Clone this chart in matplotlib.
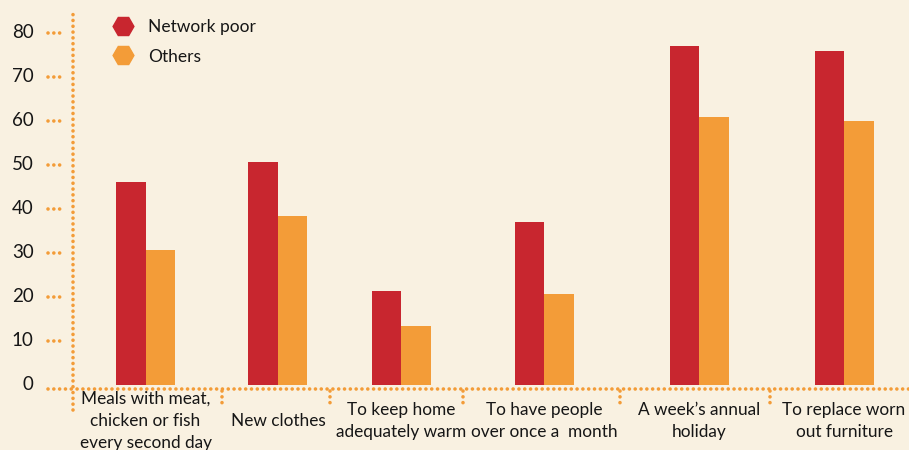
import matplotlib
matplotlib.use("Agg")
import matplotlib.pyplot as plt
import matplotlib.transforms as mtransforms
from matplotlib.lines import Line2D
import numpy as np

plt.rcParams["font.family"] = ["Lato", "DejaVu Sans"]

# data (percent)
categories = [
    "Meals with meat,\nchicken or fish\nevery second day",
    "New clothes",
    "To keep home\nadequately warm",
    "To have people\nover once a  month",
    "A week\u2019s annual\nholiday",
    "To replace worn\nout furniture",
]
network_poor = [46.1, 50.7, 21.4, 37.0, 77.0, 75.9]
others = [30.7, 38.4, 13.4, 20.7, 60.9, 60.0]
series_names = ["Network poor", "Others"]
yticks = [0, 10, 20, 30, 40, 50, 60, 70, 80]

# layout: group centres are not evenly spaced in the original
group_pos = np.array([0.0, 0.948, 1.829, 2.853, 3.962, 5.0])
sep_pos = [0.547, 1.320, 2.273, 3.397, 4.471]
bar_w = 0.211

bg = "#F9F1E1"
red = "#C8262F"
orange = "#F39C38"
dot = "#F39C38"
ink = "#161616"

fig = plt.figure(figsize=(9.09, 4.5), dpi=100, facecolor=bg)
ax = fig.add_axes([73 / 909, 1 - 389 / 450, 836 / 909, 379 / 450])
ax.set_facecolor(bg)

ax.bar(group_pos - bar_w / 2, network_poor, bar_w, color=red, zorder=2)
ax.bar(group_pos + bar_w / 2, others, bar_w, color=orange, zorder=2)

ax.set_xlim(-0.519, 5.465)
ax.set_ylim(-0.91, 85.2)
ax.set_xticks([])
ax.set_yticks([])
for s in ax.spines.values():
    s.set_visible(False)

dotted = dict(color=dot, linewidth=2.6, linestyle=(0, (0.01, 1.6)),
              dash_capstyle="round", solid_capstyle="round", clip_on=False)
tr_y = mtransforms.blended_transform_factory(ax.transAxes, ax.transData)
tr_x = mtransforms.blended_transform_factory(ax.transData, ax.transAxes)

# axis lines
ax.plot([0, 0], [-0.055, 1.0], transform=ax.transAxes, **dotted)
ax.plot([-0.030, 1.0], [0, 0], transform=ax.transAxes, **dotted)

# y ticks: three dots plus label
for t in yticks:
    if t > 0:
        ax.plot([-0.0299, -0.0125], [t, t], transform=tr_y, **dotted)
    ax.text(-0.047, t, str(t), transform=tr_y, ha="right", va="center",
            fontsize=13.5, color=ink)

# category separators below the axis
for sp in sep_pos:
    ax.plot([sp, sp], [-0.004, -0.042], transform=tr_x, **dotted)

# category labels
for x, lab in zip(group_pos, categories):
    ax.text(x, -0.0844, lab, transform=tr_x, ha="center", va="center",
            fontsize=12.4, color=ink, linespacing=1.5, clip_on=False)

handles = [
    Line2D([], [], linestyle="none", marker="H", markersize=15, color=red),
    Line2D([], [], linestyle="none", marker="H", markersize=15, color=orange),
]
fig.legend(handles, series_names, loc="upper left",
           bbox_to_anchor=(112.6 / 909, 1 - 19 / 450), frameon=False,
           fontsize=12.5, labelspacing=0.78, handletextpad=0.85,
           handlelength=1.2, borderaxespad=0, borderpad=0,
           labelcolor=ink)

fig.savefig("out.png", dpi=100, facecolor=bg)
